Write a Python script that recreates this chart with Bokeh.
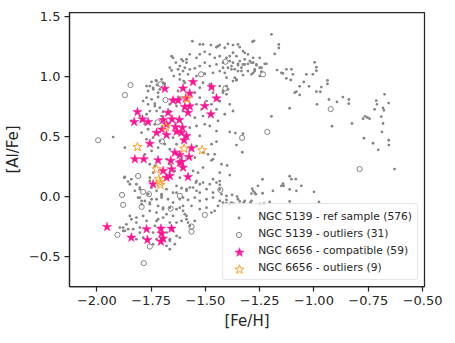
from bokeh.plotting import figure
from bokeh.models import Range1d, FixedTicker, Legend, LegendItem
from bokeh.embed import file_html
from bokeh.resources import INLINE

# NGC 5139 reference sample: ([Fe/H], [Al/Fe])
ref_sample = [
    (-1.560, 1.297), (-1.511, 1.270), (-1.475, 1.264), (-1.449, 1.247), (-1.434, 1.264), (-1.411, 1.242),
    (-1.373, 1.264), (-1.350, 1.270), (-1.342, 1.247), (-1.283, 1.292), (-1.319, 1.200), (-1.304, 1.187),
    (-1.250, 1.158), (-1.227, 1.108), (-1.265, 1.103), (-1.288, 1.117), (-1.319, 1.103), (-1.334, 1.075),
    (-1.350, 1.108), (-1.373, 1.117), (-1.388, 1.131), (-1.434, 1.172), (-1.457, 1.158), (-1.480, 1.187),
    (-1.503, 1.208), (-1.526, 1.187), (-1.541, 1.158), (-1.572, 1.187), (-1.587, 1.145), (-1.603, 1.131),
    (-1.595, 1.075), (-1.572, 1.062), (-1.549, 1.070), (-1.526, 1.089), (-1.503, 1.117), (-1.480, 1.089),
    (-1.449, 1.103), (-1.419, 1.075), (-1.380, 1.062), (-1.350, 1.047), (-1.304, 1.047), (-1.273, 1.047),
    (-1.242, 1.075), (-1.618, 1.020), (-1.580, 1.020), (-1.541, 1.006), (-1.503, 1.025), (-1.465, 1.033),
    (-1.434, 1.047), (-1.403, 0.992), (-1.357, 0.978), (-1.373, 0.964), (-1.327, 1.014), (-1.288, 1.020),
    (-1.511, 0.950), (-1.480, 0.937), (-1.465, 0.908), (-1.434, 0.922), (-1.526, 0.908), (-1.564, 0.964),
    (-1.595, 0.950), (-1.403, 0.922), (-1.419, 0.867), (-1.396, 0.895),
    (-1.396, 1.275), (-1.327, 1.214), (-1.280, 1.158), (-1.296, 1.131), (-1.319, 1.145), (-1.342, 1.131),
    (-1.357, 1.172), (-1.373, 1.200), (-1.388, 1.172), (-1.403, 1.158), (-1.419, 1.117), (-1.380, 1.089),
    (-1.350, 1.097), (-1.327, 1.103), (-1.304, 1.108), (-1.280, 1.117), (-1.265, 1.095), (-1.250, 1.075),
    (-1.273, 1.062), (-1.334, 1.047), (-1.365, 1.062), (-1.396, 1.075), (-1.411, 1.033), (-1.365, 0.992),
    (-1.357, 0.970), (-1.419, 0.881), (-1.242, 1.042), (-1.250, 1.006), (-1.280, 1.033), (-1.219, 1.108),
    (-1.196, 1.353), (-1.162, 1.270), (-1.162, 1.240), (-1.181, 1.190), (-1.276, 1.300), (-1.170, 1.056),
    (-1.150, 1.033), (-1.127, 0.987), (-1.104, 1.062), (-1.107, 0.973), (-1.143, 1.028), (-1.127, 1.062),
    (-1.097, 1.020), (-0.997, 1.120), (-0.989, 1.080), (-0.989, 1.050), (-1.005, 1.020), (-1.035, 1.020),
    (-1.047, 0.956), (-1.023, 0.920), (-1.066, 0.920), (-1.081, 0.875), (-1.066, 0.848), (-0.989, 0.875),
    (-0.971, 0.875), (-0.966, 0.914), (-0.938, 0.970), (-0.938, 0.940), (-1.112, 0.737), (-1.089, 0.867),
    (-0.986, 0.770), (-0.931, 0.810), (-0.894, 0.790), (-0.867, 0.830), (-0.839, 0.810), (-0.840, 0.775),
    (-0.917, 0.587), (-0.825, 0.610), (-1.196, 0.670), (-0.675, 0.853), (-0.713, 0.800), (-0.710, 0.770),
    (-0.656, 0.780), (-0.721, 0.728), (-0.682, 0.740), (-0.678, 0.720), (-0.765, 0.670), (-0.774, 0.650),
    (-0.754, 0.660), (-0.744, 0.650), (-0.690, 0.667), (-0.682, 0.610), (-0.687, 0.540), (-0.770, 0.487),
    (-0.728, 0.445), (-0.704, 0.390), (-0.656, 0.470), (-0.655, 0.430), (-0.629, 0.230),
    (-1.388, 0.540), (-1.362, 0.530), (-1.327, 0.525), (-1.357, 0.430), (-1.330, 0.370), (-1.426, 0.270),
    (-1.400, 0.260), (-1.434, 0.200), (-1.388, 0.180), (-1.449, 0.458), (-1.457, 0.353), (-1.472, 0.303),
    (-1.511, 0.242), (-1.534, 0.200), (-1.557, 0.214), (-1.465, 0.145), (-1.449, 0.117), (-1.480, 0.103),
    (-1.526, 0.103), (-1.544, 0.117), (-1.572, 0.075), (-1.541, 0.048), (-1.587, 0.062), (-1.610, 0.070),
    (-1.434, 0.130), (-1.434, 0.098), (-1.572, 0.575), (-1.541, 0.589), (-1.503, 0.603), (-1.480, 0.589),
    (-1.442, 0.631), (-1.549, 0.658), (-1.511, 0.672), (-1.449, 0.547), (-1.526, 0.506), (-1.472, 0.437),
    (-1.541, 0.422), (-1.511, 0.367), (-1.549, 0.325), (-1.465, 0.312), (-1.488, 0.353), (-1.549, 0.867),
    (-1.526, 0.825), (-1.541, 0.770), (-1.518, 0.728), (-1.495, 0.797), (-1.465, 0.867), (-1.472, 0.770),
    (-1.449, 0.728), (-1.434, 0.797), (-1.403, 0.853), (-1.388, 0.770), (-1.411, 0.687), (-1.373, 0.714),
    (-1.434, 0.060), (-1.426, 0.020), (-1.403, 0.006), (-1.377, 0.014), (-1.354, 0.000), (-1.380, -0.050),
    (-1.403, -0.055), (-1.388, -0.063), (-1.370, -0.058), (-1.342, -0.040), (-1.324, -0.050), (-1.293, -0.050),
    (-1.285, 0.067), (-1.273, 0.033), (-1.268, 0.020), (-1.258, 0.090), (-1.237, 0.145), (-1.237, 0.028),
    (-1.245, -0.063), (-1.230, -0.058), (-1.189, 0.048), (-1.143, 0.108), (-1.140, 0.090), (-1.112, 0.170),
    (-1.084, 0.145), (-1.058, 0.090), (-1.112, 0.060), (-1.081, 0.048), (-1.000, 0.040), (-0.977, -0.044),
    (-1.112, -0.040), (-1.350, -0.022), (-1.288, 0.025), (-1.280, 0.048), (-1.150, 0.089), (-1.104, 0.145),
    (-1.288, -0.036), (-1.603, -0.008), (-1.580, -0.028), (-1.549, -0.008), (-1.526, -0.036), (-1.495, -0.022),
    (-1.465, -0.008), (-1.434, -0.036), (-1.403, -0.028), (-1.319, -0.036), (-1.250, -0.063), (-1.204, -0.044),
    (-1.457, -0.119), (-1.472, -0.133), (-1.587, -0.161), (-1.610, -0.203), (-1.580, -0.217), (-1.549, -0.203),
    (-1.572, -0.244), (-1.526, -0.105), (-1.603, -0.078), (-1.564, -0.078), (-1.495, -0.092), (-1.442, -0.078),
    (-1.419, -0.050), (-1.557, 0.075), (-1.526, 0.033), (-1.495, 0.062), (-1.465, 0.033), (-1.541, 0.131),
    (-1.511, 0.117), (-1.587, 0.048),
    (-1.526, 1.270), (-1.442, 1.256), (-1.610, 1.145), (-1.649, 1.158), (-1.664, 1.075), (-1.587, 1.117),
    (-1.695, 0.950), (-1.725, 0.964), (-1.771, 0.922), (-1.741, 0.908), (-1.718, 0.867), (-1.787, 0.797),
    (-1.764, 0.770), (-1.733, 0.756), (-1.710, 0.742), (-1.771, 0.687), (-1.802, 0.672), (-1.841, 0.631),
    (-1.925, 0.497), (-1.871, 0.408), (-1.656, 1.172), (-1.636, 1.117), (-1.618, 1.089), (-1.656, 1.053),
    (-1.626, 1.062), (-1.603, 1.047), (-1.646, 1.006), (-1.618, 0.978), (-1.600, 0.964), (-1.748, 0.958),
    (-1.728, 0.970), (-1.702, 0.978), (-1.756, 0.922), (-1.723, 0.931), (-1.687, 0.942), (-1.764, 0.881),
    (-1.740, 0.895), (-1.710, 0.895), (-1.771, 0.825), (-1.748, 0.812), (-1.718, 0.831), (-1.733, 0.775),
    (-1.756, 0.714), (-1.725, 0.714), (-1.695, 0.708), (-1.664, 0.770), (-1.664, 0.714), (-1.626, 0.881),
    (-1.618, 0.825), (-1.633, 0.756), (-1.603, 0.714),
    (-1.856, 0.125), (-1.874, 0.158), (-1.841, 0.145), (-1.848, 0.103), (-1.825, 0.048), (-1.802, 0.075),
    (-1.810, -0.008), (-1.794, -0.036), (-1.764, 0.020), (-1.748, -0.022), (-1.725, 0.048), (-1.702, 0.006),
    (-1.672, -0.022), (-1.649, 0.033), (-1.633, 0.089), (-1.618, 0.158), (-1.756, 0.158), (-1.741, 0.200),
    (-1.733, 0.256), (-1.756, 0.270), (-1.779, 0.353), (-1.748, 0.381), (-1.718, 0.408), (-1.687, 0.437),
    (-1.664, 0.395), (-1.710, 0.464), (-1.741, 0.492), (-1.771, 0.478), (-1.794, 0.533), (-1.764, 0.562),
    (-1.733, 0.603), (-1.702, 0.672), (-1.779, 0.603), (-1.649, 0.492), (-1.633, 0.437), (-1.664, 0.270),
    (-1.679, 0.312), (-1.641, 0.214), (-1.871, 0.164), (-1.818, 0.103), (-1.802, 0.062), (-1.756, 0.131),
    (-1.748, 0.075), (-1.702, 0.020), (-1.679, 0.062), (-1.633, 0.033), (-1.756, -0.063), (-1.695, -0.092),
    (-1.618, -0.092), (-1.595, -0.147), (-1.587, -0.189), (-1.695, -0.175), (-1.725, -0.203),
    (-1.802, -0.008), (-1.779, -0.036), (-1.794, -0.063), (-1.756, -0.050), (-1.725, -0.022), (-1.702, -0.008),
    (-1.649, -0.050), (-1.618, -0.022), (-1.718, -0.078), (-1.695, -0.105), (-1.664, -0.092), (-1.633, -0.105),
    (-1.603, -0.119), (-1.725, -0.133), (-1.679, -0.147), (-1.649, -0.161), (-1.756, -0.119), (-1.787, -0.161),
    (-1.818, -0.175), (-1.841, -0.189), (-1.818, -0.217), (-1.864, -0.231), (-1.879, -0.258), (-1.856, -0.272),
    (-1.833, -0.272), (-1.802, -0.258), (-1.802, -0.300), (-1.741, -0.300), (-1.733, -0.244), (-1.664, -0.217),
    (-1.633, -0.217), (-1.649, -0.286), (-1.679, -0.300), (-1.664, -0.355), (-1.679, -0.411), (-1.633, -0.328),
    (-1.725, -0.355), (-1.741, -0.397), (-1.787, -0.342), (-1.818, -0.355), (-1.871, -0.286), (-1.894, -0.258),
    (-1.848, -0.161), (-1.771, -0.203), (-1.718, -0.189), (-1.618, -0.342), (-1.641, -0.397), (-1.664, -0.439),
    (-1.879, -0.286), (-1.664, -0.369),
]

# NGC 5139 outliers
ref_outliers = [
    (-1.845, 0.931), (-1.871, 0.847), (-1.707, 0.937), (-1.684, 0.806), (-1.994, 0.470), (-1.408, 1.125),
    (-1.408, 0.903), (-1.235, 1.020), (-0.923, 0.730), (-1.215, 0.540), (-1.331, 0.490), (-0.790, 0.230),
    (-1.431, 0.056), (-1.884, 0.014), (-1.879, -0.069), (-1.810, 0.172), (-1.787, 0.039), (-1.794, -0.086),
    (-1.905, -0.319), (-1.756, -0.417), (-1.784, -0.555), (-1.564, -0.250), (-1.564, -0.292), (-1.503, -0.153),
    (-1.618, 0.006), (-1.700, 0.460), (-1.760, 0.020), (-1.660, -0.100), (-1.600, 0.320), (-1.520, 1.020),
    (-1.720, 0.620),
]

# NGC 6656 compatible stars
ngc6656_compatible = [
    (-1.687, 0.900), (-1.557, 0.956), (-1.603, 0.903), (-1.572, 0.861), (-1.472, 0.914), (-1.449, 0.820),
    (-1.649, 0.803), (-1.626, 0.803), (-1.590, 0.820), (-1.595, 0.748), (-1.572, 0.753), (-1.580, 0.700),
    (-1.503, 0.756), (-1.475, 0.687), (-1.813, 0.706), (-1.790, 0.645), (-1.764, 0.623), (-1.828, 0.623),
    (-1.672, 0.700), (-1.695, 0.639), (-1.654, 0.645), (-1.638, 0.581), (-1.633, 0.542), (-1.679, 0.603),
    (-1.725, 0.533), (-1.679, 0.514), (-1.606, 0.575), (-1.587, 0.506), (-1.598, 0.470), (-1.756, 0.442),
    (-1.825, 0.312), (-1.784, 0.312), (-1.718, 0.303), (-1.641, 0.367), (-1.618, 0.348), (-1.575, 0.331),
    (-1.610, 0.289), (-1.656, 0.228), (-1.695, 0.214), (-1.664, 0.172), (-1.618, 0.283), (-1.603, 0.242),
    (-1.580, 0.164), (-1.741, 0.103), (-1.679, 0.158), (-1.564, 0.403), (-1.953, -0.253), (-1.841, -0.342),
    (-1.771, -0.272), (-1.767, -0.361), (-1.705, -0.267), (-1.702, -0.308), (-1.695, -0.350), (-1.705, -0.375),
    (-1.656, -0.267), (-1.610, 0.533), (-1.700, 0.560), (-1.620, 0.640), (-1.660, 0.300),
]

# NGC 6656 outliers
ngc6656_outliers = [
    (-1.584, 0.817), (-1.682, 0.581), (-1.813, 0.414), (-1.598, 0.400), (-1.515, 0.387), (-1.725, 0.228),
    (-1.715, 0.145), (-1.710, 0.120), (-1.707, 0.098),
]

legend_labels = [
    "NGC 5139 - ref sample (576)",
    "NGC 5139 - outliers (31)",
    "NGC 6656 - compatible (59)",
    "NGC 6656 - outliers (9)",
]

x_ticks = [-2.0, -1.75, -1.5, -1.25, -1.0, -0.75, -0.5]
x_tick_labels = ["\u22122.00", "\u22121.75", "\u22121.50", "\u22121.25", "\u22121.00", "\u22120.75", "\u22120.50"]
y_ticks = [-0.5, 0.0, 0.5, 1.0, 1.5]
y_tick_labels = ["\u22120.5", "0.0", "0.5", "1.0", "1.5"]

FONT = "DejaVu Sans"
DARK = "#262626"
GRAY = "#858585"
PINK = "#FF1493"
ORANGE = "#FFA028"


def xs(pts):
    return [q[0] for q in pts]


def ys(pts):
    return [q[1] for q in pts]


FRAME_W, FRAME_H = 355, 274
p = figure(
    frame_width=FRAME_W, frame_height=FRAME_H,
    x_range=Range1d(-2.126, -0.491), y_range=Range1d(-0.750, 1.536),
    output_backend="svg", toolbar_location=None,
    min_border_left=69, min_border_right=23, min_border_top=12, min_border_bottom=49,
)

styles = [
    dict(marker="circle", size=2.8, fill_color=GRAY, line_color=None),
    dict(marker="circle", size=5.2, fill_color=None, line_color=GRAY, line_width=1),
    dict(marker="star", size=9.6, fill_color=PINK, line_color=PINK, line_width=0.5),
    dict(marker="star", size=9.6, fill_color=None, line_color=ORANGE, line_width=1),
]
legend_boxes = [7, 13, 24, 24]   # legend glyph box (marker size = 0.4 * box)
datasets = [ref_sample, ref_outliers, ngc6656_compatible, ngc6656_outliers]

renderers = [p.scatter(xs(d), ys(d), **st) for d, st in zip(datasets, styles)]

# main legend: box and labels (its own glyph slots left empty)
blank = [p.scatter([], [], marker="circle", fill_alpha=0, line_alpha=0) for _ in legend_labels]
main_legend = Legend(
    items=[LegendItem(label=lab, renderers=[b]) for lab, b in zip(legend_labels, blank)],
    location="bottom_right", orientation="vertical",
    padding=5, spacing=3, margin=6,
    glyph_width=20, glyph_height=14, label_height=14, label_standoff=10,
    label_text_font=FONT, label_text_font_size="10.7px", label_text_color=DARK,
    border_line_color="#cccccc", border_line_width=1, border_radius=3,
    background_fill_color="white", background_fill_alpha=0.8,
)
p.add_layout(main_legend)

# legend markers drawn at the same size as in the plot
row_offsets = [68.5, 51.5, 34.5, 17.5]   # marker centre above frame bottom, px
marker_cx = 169.5                          # marker centre right of frame left, px
for r, g, cy in zip(renderers, legend_boxes, row_offsets):
    mini = Legend(
        items=[LegendItem(label="", renderers=[r])],
        location=(marker_cx - g / 2, cy - g / 2),
        padding=0, spacing=0, margin=0,
        glyph_width=g, glyph_height=g, label_width=0, label_height=0, label_standoff=0,
        label_text_font_size="1px",
        border_line_color=None, background_fill_alpha=0,
    )
    p.add_layout(mini)

p.xaxis.ticker = FixedTicker(ticks=x_ticks)
p.xaxis.major_label_overrides = dict(zip(x_ticks, x_tick_labels))
p.yaxis.ticker = FixedTicker(ticks=y_ticks)
p.yaxis.major_label_overrides = dict(zip(y_ticks, y_tick_labels))
p.xaxis.axis_label = "[Fe/H]"
p.yaxis.axis_label = "[Al/Fe]"

for ax in (p.xaxis[0], p.yaxis[0]):
    ax.axis_line_color = DARK
    ax.axis_line_width = 1.25
    ax.major_tick_out = 5
    ax.major_tick_in = 0
    ax.minor_tick_out = 0
    ax.minor_tick_in = 0
    ax.major_tick_line_color = DARK
    ax.major_tick_line_width = 1.25
    ax.major_label_text_font = FONT
    ax.major_label_text_font_size = "13px"
    ax.major_label_text_color = DARK
    ax.major_label_standoff = 4
    ax.axis_label_text_font = FONT
    ax.axis_label_text_font_size = "15px"
    ax.axis_label_text_font_style = "normal"
    ax.axis_label_text_color = DARK
    ax.axis_label_standoff = 4

p.xgrid.grid_line_color = None
p.ygrid.grid_line_color = None
p.outline_line_color = DARK
p.outline_line_width = 1.25
p.outline_line_alpha = 1.0
p.background_fill_color = "white"
p.border_fill_color = "white"

with open("out.html", "w") as f:
    f.write(file_html(p, INLINE))
